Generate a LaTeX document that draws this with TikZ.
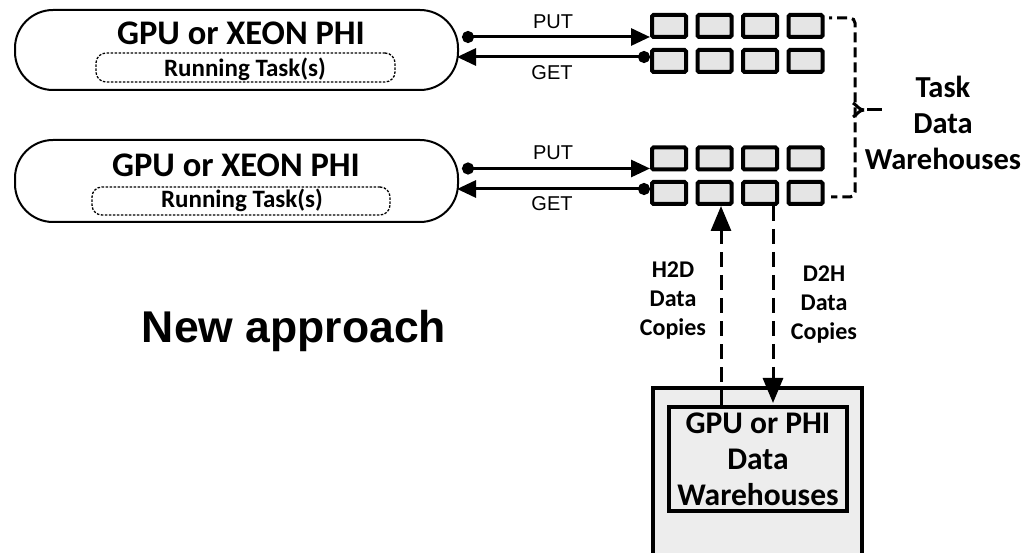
\documentclass[tikz,border=0pt]{standalone}
\usepackage{fontspec}
\setmainfont{Carlito}
\newfontfamily\arialfont{Liberation Sans}
\usetikzlibrary{arrows.meta}
\begin{document}
\begin{tikzpicture}[x=1pt,y=-1pt,
  devbox/.style={draw, line width=2pt, rounded corners=38pt, minimum width=443pt, minimum height=80pt, inner sep=0pt},
  taskbox/.style={draw, line width=1.3pt, dash pattern=on 2.5pt off 1.5pt, rounded corners=10pt, minimum width=299pt, minimum height=29pt, inner sep=0pt},
  title/.style={font=\bfseries\fontsize{34.5}{36}\selectfont, anchor=base, inner sep=0pt},
  tasklbl/.style={font=\bfseries\fontsize{25}{26}\selectfont, anchor=base, inner sep=0pt},
  cell/.style={draw, line width=4pt, fill=black!10, rounded corners=1.5pt, minimum width=34pt, minimum height=22pt, inner sep=0pt},
  dotarr/.style={line width=3pt, {Circle[length=12pt]}-{Triangle[length=19pt,width=17pt]}},
  oplbl/.style={font=\arialfont\fontsize{20}{22}\selectfont, inner sep=0pt},
  copy/.style={line width=3pt, dash pattern=on 15pt off 8pt},
  copytip/.style={-{Triangle[length=25pt,width=20pt]}},
  sidelbl/.style={font=\bfseries\fontsize{24}{29}\selectfont, align=center, inner sep=0pt},
  bigbox/.style={draw, line width=4.5pt, fill=black!7},
  whlbl/.style={font=\bfseries\fontsize{31.5}{36}\selectfont, align=center, inner sep=0pt}
]
\useasboundingbox (0,0) rectangle (1021,553);
\fill[white] (0,0) rectangle (1021,553);

% device boxes
\node[devbox] (dev1) at (236.5,50) {};
\node[devbox, minimum height=82pt] (dev2) at (236.5,181) {};
\node[title] (t1) at (241,45) {GPU or XEON PHI};
\node[title] (t2) at (236,177) {GPU or XEON PHI};
\node[taskbox] (task1) at (245.5,67.5) {};
\node[taskbox, minimum width=298pt, minimum height=28pt] (task2) at (241,201) {};
\node[tasklbl] (tl1) at (245,77) {Running Task(s)};
\node[tasklbl] (tl2) at (242,208) {Running Task(s)};

% PUT / GET connectors
\coordinate (p1) at (462,37);
\coordinate (g1) at (457,57);
\coordinate (p2) at (462,168.5);
\coordinate (g2) at (457,189);
\draw[dotarr] (p1) -- (650,37);
\draw[dotarr] (650,57) -- (g1);
\draw[dotarr] (p2) -- (650,168.5);
\draw[dotarr] (650,189) -- (g2);

% task data warehouse cells
\foreach \r/\y in {a/26,b/61,c/158.5,d/193}{
  \foreach \c/\x in {1/669,2/714.5,3/760,4/805.5}{
    \node[cell] (\r\c) at (\x,\y) {};
  }
}
\node[oplbl] (put1) at (553,22) {PUT};
\node[oplbl] (get1) at (552,73) {GET};
\node[oplbl] (put2) at (553,153) {PUT};
\node[oplbl] (get2) at (552,204) {GET};

% bracket
\coordinate (bt) at (829,18);
\coordinate (bb) at (831,197);
\coordinate (bm) at (882,110);
\draw[line width=3pt, dash pattern=on 10pt off 5pt, dash phase=7pt, rounded corners=5pt]
  (bt) -- (855,18) -- (855,197) -- (bb);
\draw[line width=3pt] (853,103) .. controls (858,106) and (859,110) .. (864,110);
\draw[line width=3pt] (853,117) .. controls (858,114) and (859,110) .. (864,110);
\draw[line width=3pt] (867,110) -- (bm);
\node[sidelbl, font=\bfseries\fontsize{30.5}{36}\selectfont] (tdw) at (943,123) {Task\\Data\\Warehouses};

% bottom device data warehouse
\draw[bigbox] (653,556) -- (653,388) -- (862,388) -- (862,556);
\node[draw, line width=4.5pt, fill=black!7, minimum width=178pt, minimum height=104pt, inner sep=0pt] (dw) at (758,459) {};
\node[whlbl] (dwl) at (758,459) {GPU or PHI\\Data\\Warehouses};

% copies
\coordinate (h2ds) at (721,405);
\coordinate (d2he) at (773,403);
\draw[copy] (h2ds) -- (721,232);
\draw[line width=3pt, copytip] (721,236) -- (721,0 |- d2.south);
\draw[copy] (773,0 |- d3.south) -- (773,380);
\draw[line width=3pt, copytip] (773,376) -- (d2he);
\node[sidelbl] (h2d) at (673,301) {H2D\\Data\\Copies};
\node[sidelbl] (d2h) at (824,305) {D2H\\Data\\Copies};

% caption
\node[font=\arialfont\bfseries\fontsize{44.5}{48}\selectfont, anchor=base, inner sep=0pt] (na) at (294,343) {New approach};
\end{tikzpicture}
\end{document}
